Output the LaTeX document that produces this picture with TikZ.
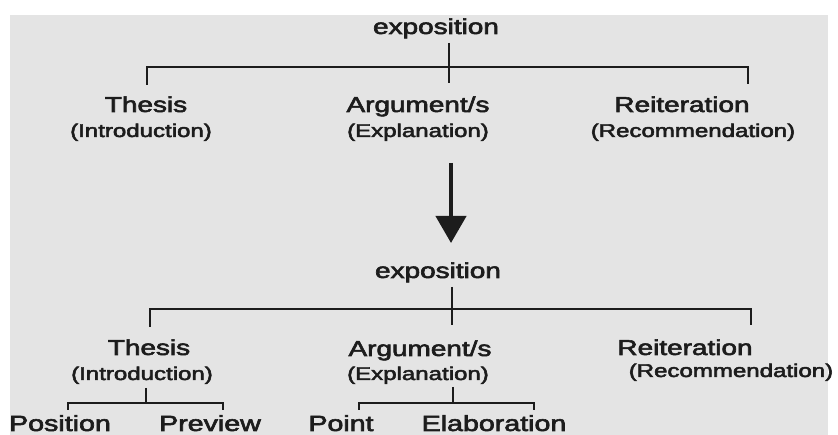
\documentclass[tikz,border=0pt]{standalone}
\usepackage{graphicx}
\usepackage{fontspec}
\setmainfont{Liberation Sans}
\newfontfamily\heavyfont{Liberation Sans}[UprightFeatures={FakeBold=2.5}]
\usetikzlibrary{arrows.meta}
\newcommand{\widetxt}[1]{\scalebox{1.3}[1]{#1}}
\definecolor{bgray}{HTML}{E4E4E4}
\definecolor{ink}{HTML}{1C1C1C}
\tikzset{
  mainlbl/.style={anchor=base, inner sep=0pt, text=ink, font=\heavyfont\fontsize{21.5}{24}\selectfont},
  sublbl/.style={anchor=base, inner sep=0pt, text=ink, font=\heavyfont\fontsize{18.5}{21}\selectfont},
  leaflbl/.style={anchor=base, inner sep=0pt, text=ink, font=\heavyfont\fontsize{22}{25}\selectfont},
  lin/.style={draw=ink, line width=2.6pt, line cap=butt, line join=miter},
  bigarrow/.style={draw=ink, line width=4.3pt, -{Triangle[width=30pt,length=27pt]}}
}
\begin{document}
\begin{tikzpicture}[x=1pt,y=-1pt]
\useasboundingbox (0,0) rectangle (838,435);
\fill[white] (0,0) rectangle (838,435);
\fill[bgray] (10,15) rectangle (828,435);

% ---------- top tree ----------
\node[mainlbl] (e1) at (436,34) {\widetxt{exposition}};
\node[mainlbl] (th1) at (146,112) {\widetxt{Thesis}};
\node[sublbl]  (in1) at (141,137) {\widetxt{(Introduction)}};
\node[mainlbl] (ar1) at (418,112) {\widetxt{Argument/s}};
\node[sublbl]  (ex1) at (418,137) {\widetxt{(Explanation)}};
\node[mainlbl] (re1) at (682,112) {\widetxt{Reiteration}};
\node[sublbl]  (rc1) at (693,137) {\widetxt{(Recommendation)}};

\coordinate (e1a) at (449,43);
\coordinate (e1b) at (449,83);
\coordinate (h1)  at (449,67);
\coordinate (t1)  at (147,85);
\coordinate (r1)  at (748,84);
\draw[lin] (e1a) -- (e1b);
\draw[lin] (t1) -- (t1 |- h1) -- (r1 |- h1) -- (r1);

% ---------- arrow ----------
\coordinate (a1) at (451,163);
\coordinate (a2) at (451,243);
\draw[bigarrow] (a1) -- (a2);

% ---------- bottom tree ----------
\node[mainlbl] (e2) at (438,278) {\widetxt{exposition}};
\node[mainlbl] (th2) at (149,355) {\widetxt{Thesis}};
\node[sublbl]  (in2) at (142,380) {\widetxt{(Introduction)}};
\node[mainlbl] (ar2) at (420,356) {\widetxt{Argument/s}};
\node[sublbl]  (ex2) at (418,380) {\widetxt{(Explanation)}};
\node[mainlbl] (re2) at (685,355) {\widetxt{Reiteration}};
\node[sublbl]  (rc2) at (731,377) {\widetxt{(Recommendation)}};

\coordinate (e2a) at (452,287);
\coordinate (e2b) at (452,325);
\coordinate (h2)  at (452,309);
\coordinate (t2)  at (150,327);
\coordinate (r2)  at (751,325);
\draw[lin] (e2a) -- (e2b);
\draw[lin] (t2) -- (t2 |- h2) -- (r2 |- h2) -- (r2);

% ---------- leaves ----------
\node[leaflbl] (po) at (60,431) {\widetxt{Position}};
\node[leaflbl] (pr) at (210,431) {\widetxt{Preview}};
\node[leaflbl] (pt) at (341,431) {\widetxt{Point}};
\node[leaflbl] (el) at (494,431) {\widetxt{Elaboration}};

\coordinate (i2a) at (146,388);
\coordinate (i2h) at (146,403);
\coordinate (pol) at (68,410);
\coordinate (prr) at (223,410);
\draw[lin] (i2a) -- (i2h);
\draw[lin] (pol) -- (pol |- i2h) -- (prr |- i2h) -- (prr);

\coordinate (x2a) at (453,387);
\coordinate (x2h) at (453,403);
\coordinate (ptl) at (359,410);
\coordinate (elr) at (534,410);
\draw[lin] (x2a) -- (x2h);
\draw[lin] (ptl) -- (ptl |- x2h) -- (elr |- x2h) -- (elr);
\end{tikzpicture}
\end{document}
